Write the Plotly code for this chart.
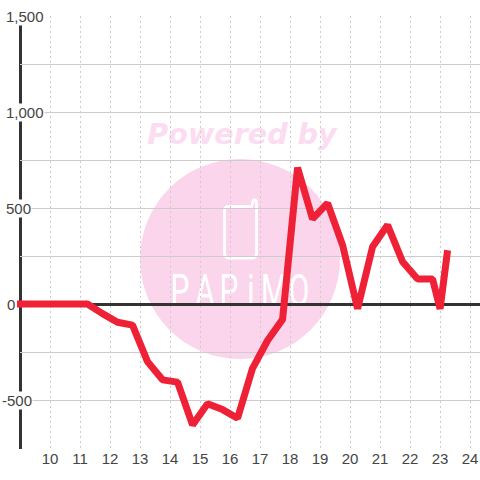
import plotly.graph_objects as go

hours = [8.9, 9.5, 10.0, 10.5, 11.25, 11.75, 12.25, 12.75, 13.25, 13.75, 14.25, 14.75, 15.25, 15.75, 16.25,
         16.75, 17.25, 17.75, 18.25, 18.75, 19.25, 19.75, 20.25, 20.75, 21.25, 21.75, 22.25, 22.75, 23.0, 23.25]
values = [0, 0, 0, 0, 0, -50, -95, -110, -300, -395, -407, -630, -520, -550, -595,
          -335, -190, -80, 710, 443, 525, 307, -25, 298, 411, 220, 130, 130, -25, 280]
x_ticks = list(range(10, 25))
y_labels = [(1500, "1,500", 4.5), (1000, "1,000", 4.5), (500, "500", 4.5), (0, "0", 6), (-500, "-500", 0.5)]
watermark_title = "Powered by"
watermark_letters = ["P", "A", "P", "i", "M", "O"]
letter_x = [180, 205, 229, 251, 274, 299]

W, H = 480, 480
L, R, T, B = 20, 0, 16, 32
PW, PH = W - L - R, H - T - B
def px(x): return (x - L) / PW
def py(y): return (H - B - y) / PH

fig = go.Figure()
fig.add_trace(go.Scatter(x=hours, y=values, mode="lines", cliponaxis=False, hoverinfo="skip",
                         line=dict(color="#ee2136", width=7, shape="linear")))

phone = ("M {a} {t} L {b} {t} L {c} {u} Q {c} {t0} {d} {t0} Q {e} {t0} {e} {u} L {e} {g} Q {e} {h} {f} {h} "
         "L {i} {h} Q {j} {h} {j} {g} L {j} {k} Q {j} {t} {a} {t} Z").format(
    a=px(229), t=py(206.5), b=px(251.5), c=px(252.5), u=py(204), t0=py(200), d=px(254.5), e=px(256.5),
    g=py(253), h=py(258), f=px(252), i=px(229), j=px(224.5), k=py(211))

shapes = [
    dict(type="circle", xref="paper", yref="paper", x0=px(140), x1=px(340), y0=py(359), y1=py(159),
         fillcolor="#fbd5ec", line_width=0, layer="below"),
    dict(type="rect", xref="paper", yref="paper", x0=px(102), x1=px(382), y0=py(148), y1=py(116),
         line_width=0, fillcolor="rgba(0,0,0,0)", layer="below",
         label=dict(text="<b><i>" + watermark_title + "</i></b>", textposition="middle center",
                    font=dict(family="DejaVu Sans", size=28.6, color="#fcdcf0"))),
    dict(type="path", xref="paper", yref="paper", layer="below", line=dict(color="white", width=2.8), path=phone),
]
for ch, xc in zip(watermark_letters, letter_x):
    shapes.append(dict(type="rect", xref="paper", yref="paper", x0=px(xc-16), x1=px(xc+16), y0=py(314), y1=py(262),
                       line_width=0, fillcolor="rgba(0,0,0,0)", layer="below",
                       label=dict(text=ch, textposition="middle center",
                                  font=dict(family="Roboto", size=44, color="white"))))
shapes.append(dict(type="line", xref="paper", yref="paper", x0=px(20.5), x1=px(20.5), y0=py(449), y1=py(16),
                   line=dict(color="#333333", width=3), layer="between"))

annotations = [dict(text=t, xref="paper", yref="y", x=px(x0), y=v, xanchor="left", yanchor="middle", showarrow=False,
                    bgcolor="white", borderpad=0, font=dict(family="Liberation Sans", size=15, color="#444444"))
               for v, t, x0 in y_labels]

fig.update_layout(
    width=W, height=H, margin=dict(l=L, r=R, t=T, b=B, pad=0), autosize=False,
    paper_bgcolor="white", plot_bgcolor="white", showlegend=False,
    shapes=shapes, annotations=annotations,
    xaxis=dict(range=[9, 24.33], tickvals=x_ticks, ticks="", showline=False, zeroline=False,
               showgrid=True, gridcolor="#cccccc", griddash="2px,3px", gridwidth=1,
               tickfont=dict(family="Liberation Sans", size=15, color="#444444")),
    yaxis=dict(range=[-750, 1500], dtick=250, showticklabels=False, ticks="", showline=False,
               showgrid=True, gridcolor="#cccccc", gridwidth=1.4,
               zeroline=True, zerolinecolor="#333333", zerolinewidth=3),
)
post = ("document.body.style.margin='0';document.body.style.overflow='hidden';"
        "document.querySelectorAll('.js-line').forEach(function(e){e.style.strokeLinejoin='bevel';"
        "var n=e;while(n&&n.tagName!=='svg'){n.removeAttribute('clip-path');n.style.clipPath='none';n=n.parentNode;}});"
        "document.querySelectorAll('svg text').forEach(function(e){e.style.textRendering='auto';"
        "if(e.textContent.length==1&&e.closest('.shapelayer')){e.style.transformBox='fill-box';"
        "e.style.transformOrigin='center';e.style.transform='scaleX(0.68)';}});")
fig.write_html("out.html", config=dict(displayModeBar=False), post_script=post)
